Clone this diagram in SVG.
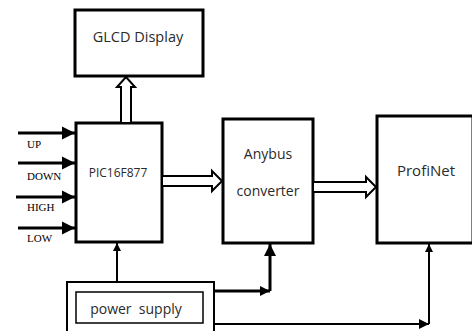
<svg xmlns="http://www.w3.org/2000/svg" width="472" height="331" viewBox="0 0 472 331">
<style>
.box{fill:#fff;stroke:#000;stroke-width:3}
.thin{fill:#fff;stroke:#000;stroke-width:2}
.lbl{font-family:"Open Sans","Liberation Sans",sans-serif;font-size:13px;fill:#2a2a2a;text-anchor:middle}
.in{font-family:"Liberation Serif",serif;font-size:11px;fill:#000}
.ln{fill:none;stroke:#000;stroke-width:2}
.thick{fill:none;stroke:#000;stroke-width:3}
.hollow{fill:#fff;stroke:#000;stroke-width:2;stroke-linejoin:miter}
</style>
<defs>
<marker id="ah" viewBox="0 0 10 10" refX="10" refY="5" markerWidth="4" markerHeight="4" orient="auto" markerUnits="strokeWidth">
<path d="M0,0 L10,5 L0,10 z" fill="#000"/>
</marker>
<marker id="ahb" viewBox="0 0 10 10" refX="10" refY="5" markerWidth="4.5" markerHeight="4.5" orient="auto" markerUnits="strokeWidth">
<path d="M0,0 L10,5 L0,10 z" fill="#000"/>
</marker>
</defs>
<rect width="472" height="331" fill="#fff"/>
<g id="glcd">
<rect class="box" x="75" y="10" width="128" height="66"/>
<text class="lbl" x="138" y="42" style="font-size:14.5px">GLCD Display</text>
</g>
<g id="pic">
<rect class="box" x="76" y="123" width="86" height="119"/>
<text class="lbl" x="118" y="177" style="font-size:12px">PIC16F877</text>
</g>
<g id="anybus">
<rect class="box" x="223" y="119" width="90" height="124"/>
<text class="lbl" x="268" y="159" style="font-size:14px">Anybus</text>
<text class="lbl" x="268" y="196" style="font-size:14px">converter</text>
</g>
<g id="profinet">
<rect class="box" x="377" y="116" width="96" height="127"/>
<text class="lbl" x="426" y="176" style="font-size:15px">ProfiNet</text>
</g>
<g id="power">
<rect class="thin" x="67" y="282" width="147" height="52"/>
<rect class="thin" x="76" y="292" width="127" height="31" style="stroke-width:1.5"/>
<text class="lbl" x="136" y="314" xml:space="preserve" style="font-size:14px;white-space:pre">power  supply</text>
</g>
<g id="inputs">
<text class="in" x="27" y="148">UP</text>
<text class="in" x="27" y="180">DOWN</text>
<text class="in" x="27" y="211">HIGH</text>
<text class="in" x="27" y="242">LOW</text>
</g>
<g id="connectors">
<line class="thick" x1="18" y1="133" x2="75" y2="133" marker-end="url(#ahb)"/>
<line class="thick" x1="18" y1="163" x2="75" y2="163" marker-end="url(#ahb)"/>
<line class="thick" x1="16" y1="197" x2="75" y2="197" marker-end="url(#ahb)"/>
<line class="thick" x1="18" y1="228" x2="75" y2="228" marker-end="url(#ahb)"/>
<path class="hollow" d="M121,122 L121,87 L117,87 L126,77 L135,87 L131,87 L131,122"/>
<path class="hollow" d="M163,176 L212,176 L212,171 L222,181 L212,191 L212,186 L163,186"/>
<path class="hollow" d="M314,182 L366,182 L366,177 L376,187 L366,197 L366,192 L314,192"/>
<line class="ln" x1="117" y1="282" x2="117" y2="243" marker-end="url(#ah)"/>
<polyline class="thick" points="214,291 270,291"/>
<path d="M260,286 L270,291 L260,296 z"/>
<line class="thick" x1="270" y1="291" x2="270" y2="244" marker-end="url(#ah)"/>
<polyline class="ln" points="214,324 429,324"/>
<path d="M419,319 L429,324 L419,329 z"/>
<line class="ln" x1="429" y1="324" x2="429" y2="244" marker-end="url(#ah)"/>
</g>
</svg>
